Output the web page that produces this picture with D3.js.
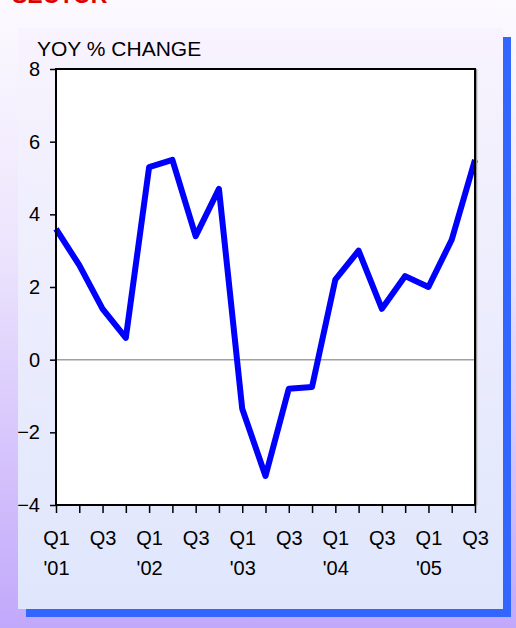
<!DOCTYPE html>
<html>
<head>
<meta charset="utf-8">
<script src="https://cdn.jsdelivr.net/npm/d3@7"></script>
<style>
  html, body { margin: 0; padding: 0; }
  body { width: 516px; height: 628px; overflow: hidden; }
  svg { display: block; font-family: "Liberation Sans", Arial, sans-serif; }
</style>
</head>
<body>
<div id="chart"></div>
<script>
var quarters = ["Q1 '01", "Q2 '01", "Q3 '01", "Q4 '01",
                "Q1 '02", "Q2 '02", "Q3 '02", "Q4 '02",
                "Q1 '03", "Q2 '03", "Q3 '03", "Q4 '03",
                "Q1 '04", "Q2 '04", "Q3 '04", "Q4 '04",
                "Q1 '05", "Q2 '05", "Q3 '05"];
var yoyChange = [3.6, 2.6, 1.4, 0.6, 5.3, 5.5, 3.4, 4.7, -1.35, -3.2,
                 -0.8, -0.75, 2.2, 3.0, 1.4, 2.3, 2.0, 3.3, 5.5];
var yTicks = [-4, -2, 0, 2, 4, 6, 8];
var titleText = "SECTOR";
var axisTitle = "YOY % CHANGE";

function drawChart() {
    var width = 516, height = 628;
    var margin = {top: 69, right: 41, bottom: 123, left: 56};
    var plotW = width - margin.left - margin.right;
    var plotH = height - margin.top - margin.bottom;

    var svg = d3.select('#chart').append('svg')
        .attr('width', width)
        .attr('height', height);

    var defs = svg.append('defs');
    var bg = defs.append('linearGradient').attr('id', 'bg')
        .attr('x1', 0).attr('y1', 0).attr('x2', 0).attr('y2', 1);
    bg.append('stop').attr('offset', '0%').attr('stop-color', '#fcfaff');
    bg.append('stop').attr('offset', '40%').attr('stop-color', '#ece4fd');
    bg.append('stop').attr('offset', '100%').attr('stop-color', '#c2a8fb');
    var panel = defs.append('linearGradient').attr('id', 'panel')
        .attr('x1', 0).attr('y1', 0).attr('x2', 0).attr('y2', 1);
    panel.append('stop').attr('offset', '0%').attr('stop-color', '#f8f3fe');
    panel.append('stop').attr('offset', '100%').attr('stop-color', '#dfe6fc');

    svg.append('rect').attr('width', width).attr('height', height).attr('fill', 'url(#bg)');

    // title is cut off at the top edge
    svg.append('text')
        .attr('x', 12).attr('y', 3)
        .attr('fill', '#e00000')
        .attr('font-weight', 'bold')
        .attr('font-size', 23)
        .text(titleText);

    // shadow + panel
    svg.append('rect').attr('x', 26).attr('y', 37).attr('width', 485).attr('height', 580).attr('fill', '#3366ff');
    svg.append('rect').attr('x', 18).attr('y', 28).attr('width', 485).attr('height', 581).attr('fill', 'url(#panel)');

    var g = svg.append('g').attr('transform', 'translate(' + margin.left + ',' + margin.top + ')');

    var x = d3.scalePoint().domain(quarters).range([0, plotW]);
    var y = d3.scaleLinear().domain([-4, 8]).range([plotH, 0]);

    g.append('rect').attr('width', plotW).attr('height', plotH).attr('fill', '#ffffff');

    // zero line
    g.append('line')
        .attr('x1', 0).attr('x2', plotW)
        .attr('y1', y(0)).attr('y2', y(0))
        .attr('stroke', '#a0a0a0').attr('stroke-width', 1.5);

    var line = d3.line()
        .x(function(d, i) { return x(quarters[i]); })
        .y(function(d) { return y(d); });

    g.append('path').datum(yoyChange)
        .attr('d', line)
        .attr('fill', 'none')
        .attr('stroke', '#0000ff')
        .attr('stroke-width', 6)
        .attr('stroke-linejoin', 'round');

    // frame
    g.append('line').attr('x1', plotW + 1.5).attr('x2', plotW + 1.5).attr('y1', 0).attr('y2', plotH)
        .attr('stroke', '#999999').attr('stroke-width', 1.5);
    g.append('rect').attr('width', plotW).attr('height', plotH)
        .attr('fill', 'none').attr('stroke', '#000000').attr('stroke-width', 2);

    var yAxis = g.append('g')
        .call(d3.axisLeft(y).tickValues(yTicks).tickSize(6).tickPadding(10));
    yAxis.select('.domain').remove();
    yAxis.selectAll('line').attr('stroke', '#000').attr('stroke-width', 1.5);
    yAxis.selectAll('text').attr('font-size', 20).attr('fill', '#000').attr('font-family', null);

    var xAxis = g.append('g')
        .attr('transform', 'translate(0,' + plotH + ')')
        .call(d3.axisBottom(x).tickSize(8).tickFormat(''));
    xAxis.select('.domain').remove();
    xAxis.selectAll('line').attr('stroke', '#000').attr('stroke-width', 1.5);

    xAxis.selectAll('.tick').each(function(d) {
        var parts = d.split(' ');
        var t = d3.select(this).select('text')
            .attr('font-size', 20).attr('fill', '#000').attr('font-family', null)
            .attr('y', 0).attr('dy', null);
        if (parts[0] === 'Q1' || parts[0] === 'Q3') {
            t.append('tspan').attr('x', 0).attr('y', 40).text(parts[0]);
        }
        if (parts[0] === 'Q1') {
            t.append('tspan').attr('x', 0).attr('y', 70).text(parts[1]);
        }
    });

    svg.append('text')
        .attr('x', 37).attr('y', 56)
        .attr('font-size', 21)
        .attr('fill', '#000')
        .text(axisTitle);
}

drawChart();
</script>
</body>
</html>
